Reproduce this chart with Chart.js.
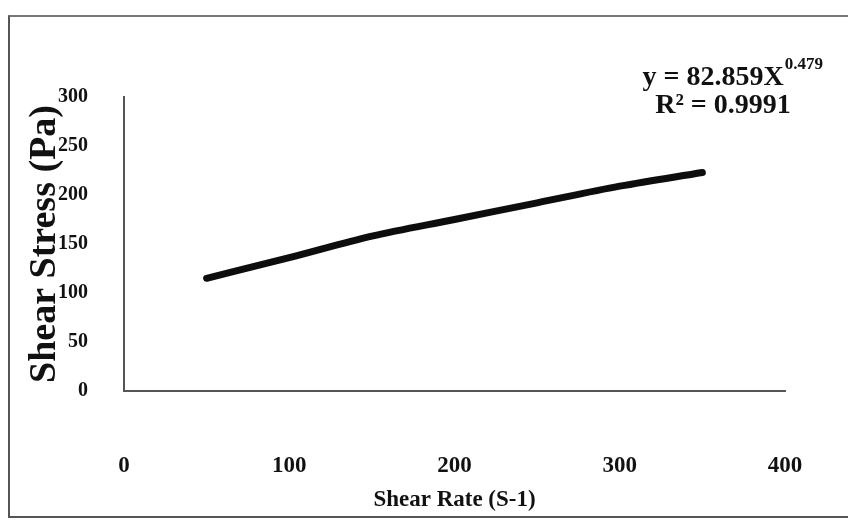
<!DOCTYPE html>
<html>
<head>
<meta charset="utf-8">
<script src="https://cdn.jsdelivr.net/npm/chart.js@4"></script>
<style>
  html, body { margin: 0; padding: 0; background: #fff; }
  #wrap { position: relative; width: 848px; height: 529px; }
  #frame {
    position: absolute; left: 8px; top: 15px; width: 850px; height: 499px;
    border-left: 2px solid #555; border-top: 2px solid #777; border-bottom: 2px solid #555;
    pointer-events: none;
  }
</style>
</head>
<body>
<div id="wrap">
  <canvas id="chartArea" width="848" height="529"></canvas>
  <div id="frame"></div>
</div>
<script>
// ----------------------------
// data
// ----------------------------
const shearRate = [50, 100, 150, 200, 250, 300, 350];
const shearStress = [115, 136, 158, 175, 192, 209, 223];
const xTicks = [0, 100, 200, 300, 400];
const yTicks = [0, 50, 100, 150, 200, 250, 300];
const fitLine1 = 'y = 82.859X';
const fitPower = '0.479';
const fitLine2 = 'R² = 0.9991';

const serif = '"Liberation Serif", "Times New Roman", serif';
const ink = '#111';

// ----------------------------
// trend equation text (top right)
// ----------------------------
const equationPlugin = {
  id: 'equation',
  afterDraw(chart) {
    const ctx = chart.ctx;
    const right = chart.chartArea.right;
    ctx.save();
    ctx.fillStyle = ink;
    ctx.textBaseline = 'alphabetic';
    ctx.font = 'bold 28px ' + serif;
    const w1 = ctx.measureText(fitLine1).width;
    ctx.font = 'bold 17px ' + serif;
    const wp = ctx.measureText(fitPower).width;
    const x0 = right + 37 - w1 - wp;
    ctx.font = 'bold 28px ' + serif;
    ctx.textAlign = 'left';
    ctx.fillText(fitLine1, x0, 85);
    ctx.font = 'bold 17px ' + serif;
    ctx.fillText(fitPower, x0 + w1 + 1, 69);
    ctx.font = 'bold 28px ' + serif;
    ctx.textAlign = 'center';
    ctx.fillText(fitLine2, right - 62, 113);
    ctx.restore();
  }
};

const points = shearRate.map((x, i) => ({ x, y: shearStress[i] }));

new Chart(document.getElementById('chartArea'), {
  type: 'scatter',
  data: {
    datasets: [{
      data: points,
      showLine: true,
      borderColor: '#0d0d0d',
      borderWidth: 7,
      borderCapStyle: 'round',
      borderJoinStyle: 'round',
      cubicInterpolationMode: 'monotone',
      pointRadius: 0,
      pointHoverRadius: 0
    }]
  },
  options: {
    responsive: false,
    animation: false,
    events: [],
    layout: { padding: { left: 10, top: 97, right: 63, bottom: 15 } },
    plugins: { legend: { display: false }, tooltip: { enabled: false } },
    scales: {
      x: {
        type: 'linear',
        min: 0, max: 400,
        afterBuildTicks: s => { s.ticks = xTicks.map(v => ({ value: v })); },
        afterFit: s => { s.height = 123; },
        // long invisible tick marks push the labels down without widening the side padding
        grid: { drawOnChartArea: false, drawTicks: true, tickLength: 58, color: 'rgba(0,0,0,0)' },
        border: { display: true, color: '#555', width: 2 },
        ticks: { padding: 3, color: ink, font: { family: serif, size: 23, weight: 'bold' } },
        title: {
          display: true, text: 'Shear Rate (S-1)', color: ink,
          padding: { top: 0, bottom: 0 },
          font: { family: serif, size: 23, weight: 'bold' }
        }
      },
      y: {
        min: 0, max: 300,
        afterBuildTicks: s => { s.ticks = yTicks.map(v => ({ value: v })); },
        afterFit: s => { s.width = 114; },
        grid: { drawOnChartArea: false, drawTicks: true, tickLength: 34, color: 'rgba(0,0,0,0)' },
        border: { display: true, color: '#555', width: 2 },
        ticks: { padding: 2, color: ink, font: { family: serif, size: 20, weight: 'bold' } },
        title: {
          display: true, text: 'Shear Stress (Pa)', color: ink,
          padding: { top: 12, bottom: 0 },
          font: { family: serif, size: 38, weight: 'bold' }
        }
      }
    }
  },
  plugins: [equationPlugin]
});
</script>
</body>
</html>
